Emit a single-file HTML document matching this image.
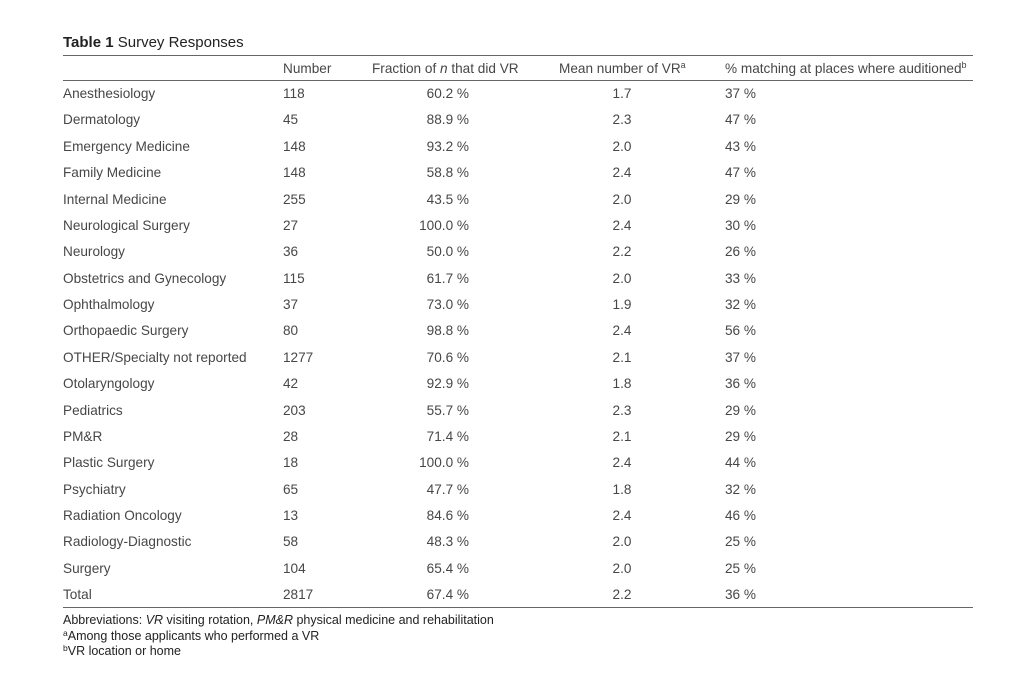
<!DOCTYPE html>
<html>
<head>
<meta charset="utf-8">
<style>
  html, body { margin:0; padding:0; background:#fff; }
  body { width:1024px; height:684px; position:relative; overflow:hidden;
         font-family:"Liberation Sans", Arial, sans-serif; color:#474747; }
  .t { position:absolute; white-space:nowrap; font-size:13.6px; height:20px; line-height:20px; }
  .rule { position:absolute; left:63px; width:910px; height:1px; background:#666; }
  .title { position:absolute; left:63px; top:33px; font-size:15px; line-height:20px; color:#222; white-space:nowrap; }
  .fn { position:absolute; left:63px; font-size:12.5px; line-height:16px; height:16px; color:#222; white-space:nowrap; }
  sup { font-size:9px; vertical-align:0; position:relative; top:-5px; }
  .fs { font-size:8.5px; top:-4px; }
  .r { text-align:right; }
  .c { text-align:center; }
</style>
</head>
<body>
<div class="title"><b>Table 1</b> Survey Responses</div>
<div class="rule" style="top:55px;"></div>
<div class="rule" style="top:80px;"></div>
<div class="rule" style="top:607px;"></div>

<div class="t" style="left:283px;top:59px;">Number</div>
<div class="t" style="left:372px;top:59px;">Fraction of <i>n</i> that did VR</div>
<div class="t" style="left:559px;top:59px;">Mean number of VR<sup>a</sup></div>
<div class="t" style="left:725px;top:59px;">% matching at places where auditioned<sup>b</sup></div>

<div class="fn" style="top:612px;">Abbreviations: <i>VR</i> visiting rotation, <i>PM&amp;R</i> physical medicine and rehabilitation</div>
<div class="fn" style="top:628px;"><sup class="fs">a</sup>Among those applicants who performed a VR</div>
<div class="fn" style="top:643px;"><sup class="fs">b</sup>VR location or home</div>

<div class="t" style="left:63px;top:84px;">Anesthesiology</div><div class="t" style="left:283px;top:84px;">118</div><div class="t r" style="left:409px;width:60px;top:84px;">60.2 %</div><div class="t c" style="left:592px;width:60px;top:84px;">1.7</div><div class="t" style="left:725px;top:84px;">37 %</div>
<div class="t" style="left:63px;top:110px;">Dermatology</div><div class="t" style="left:283px;top:110px;">45</div><div class="t r" style="left:409px;width:60px;top:110px;">88.9 %</div><div class="t c" style="left:592px;width:60px;top:110px;">2.3</div><div class="t" style="left:725px;top:110px;">47 %</div>
<div class="t" style="left:63px;top:137px;">Emergency Medicine</div><div class="t" style="left:283px;top:137px;">148</div><div class="t r" style="left:409px;width:60px;top:137px;">93.2 %</div><div class="t c" style="left:592px;width:60px;top:137px;">2.0</div><div class="t" style="left:725px;top:137px;">43 %</div>
<div class="t" style="left:63px;top:163px;">Family Medicine</div><div class="t" style="left:283px;top:163px;">148</div><div class="t r" style="left:409px;width:60px;top:163px;">58.8 %</div><div class="t c" style="left:592px;width:60px;top:163px;">2.4</div><div class="t" style="left:725px;top:163px;">47 %</div>
<div class="t" style="left:63px;top:190px;">Internal Medicine</div><div class="t" style="left:283px;top:190px;">255</div><div class="t r" style="left:409px;width:60px;top:190px;">43.5 %</div><div class="t c" style="left:592px;width:60px;top:190px;">2.0</div><div class="t" style="left:725px;top:190px;">29 %</div>
<div class="t" style="left:63px;top:216px;">Neurological Surgery</div><div class="t" style="left:283px;top:216px;">27</div><div class="t r" style="left:409px;width:60px;top:216px;">100.0 %</div><div class="t c" style="left:592px;width:60px;top:216px;">2.4</div><div class="t" style="left:725px;top:216px;">30 %</div>
<div class="t" style="left:63px;top:242px;">Neurology</div><div class="t" style="left:283px;top:242px;">36</div><div class="t r" style="left:409px;width:60px;top:242px;">50.0 %</div><div class="t c" style="left:592px;width:60px;top:242px;">2.2</div><div class="t" style="left:725px;top:242px;">26 %</div>
<div class="t" style="left:63px;top:269px;">Obstetrics and Gynecology</div><div class="t" style="left:283px;top:269px;">115</div><div class="t r" style="left:409px;width:60px;top:269px;">61.7 %</div><div class="t c" style="left:592px;width:60px;top:269px;">2.0</div><div class="t" style="left:725px;top:269px;">33 %</div>
<div class="t" style="left:63px;top:295px;">Ophthalmology</div><div class="t" style="left:283px;top:295px;">37</div><div class="t r" style="left:409px;width:60px;top:295px;">73.0 %</div><div class="t c" style="left:592px;width:60px;top:295px;">1.9</div><div class="t" style="left:725px;top:295px;">32 %</div>
<div class="t" style="left:63px;top:321px;">Orthopaedic Surgery</div><div class="t" style="left:283px;top:321px;">80</div><div class="t r" style="left:409px;width:60px;top:321px;">98.8 %</div><div class="t c" style="left:592px;width:60px;top:321px;">2.4</div><div class="t" style="left:725px;top:321px;">56 %</div>
<div class="t" style="left:63px;top:348px;">OTHER/Specialty not reported</div><div class="t" style="left:283px;top:348px;">1277</div><div class="t r" style="left:409px;width:60px;top:348px;">70.6 %</div><div class="t c" style="left:592px;width:60px;top:348px;">2.1</div><div class="t" style="left:725px;top:348px;">37 %</div>
<div class="t" style="left:63px;top:374px;">Otolaryngology</div><div class="t" style="left:283px;top:374px;">42</div><div class="t r" style="left:409px;width:60px;top:374px;">92.9 %</div><div class="t c" style="left:592px;width:60px;top:374px;">1.8</div><div class="t" style="left:725px;top:374px;">36 %</div>
<div class="t" style="left:63px;top:401px;">Pediatrics</div><div class="t" style="left:283px;top:401px;">203</div><div class="t r" style="left:409px;width:60px;top:401px;">55.7 %</div><div class="t c" style="left:592px;width:60px;top:401px;">2.3</div><div class="t" style="left:725px;top:401px;">29 %</div>
<div class="t" style="left:63px;top:427px;">PM&amp;R</div><div class="t" style="left:283px;top:427px;">28</div><div class="t r" style="left:409px;width:60px;top:427px;">71.4 %</div><div class="t c" style="left:592px;width:60px;top:427px;">2.1</div><div class="t" style="left:725px;top:427px;">29 %</div>
<div class="t" style="left:63px;top:453px;">Plastic Surgery</div><div class="t" style="left:283px;top:453px;">18</div><div class="t r" style="left:409px;width:60px;top:453px;">100.0 %</div><div class="t c" style="left:592px;width:60px;top:453px;">2.4</div><div class="t" style="left:725px;top:453px;">44 %</div>
<div class="t" style="left:63px;top:480px;">Psychiatry</div><div class="t" style="left:283px;top:480px;">65</div><div class="t r" style="left:409px;width:60px;top:480px;">47.7 %</div><div class="t c" style="left:592px;width:60px;top:480px;">1.8</div><div class="t" style="left:725px;top:480px;">32 %</div>
<div class="t" style="left:63px;top:506px;">Radiation Oncology</div><div class="t" style="left:283px;top:506px;">13</div><div class="t r" style="left:409px;width:60px;top:506px;">84.6 %</div><div class="t c" style="left:592px;width:60px;top:506px;">2.4</div><div class="t" style="left:725px;top:506px;">46 %</div>
<div class="t" style="left:63px;top:532px;">Radiology-Diagnostic</div><div class="t" style="left:283px;top:532px;">58</div><div class="t r" style="left:409px;width:60px;top:532px;">48.3 %</div><div class="t c" style="left:592px;width:60px;top:532px;">2.0</div><div class="t" style="left:725px;top:532px;">25 %</div>
<div class="t" style="left:63px;top:559px;">Surgery</div><div class="t" style="left:283px;top:559px;">104</div><div class="t r" style="left:409px;width:60px;top:559px;">65.4 %</div><div class="t c" style="left:592px;width:60px;top:559px;">2.0</div><div class="t" style="left:725px;top:559px;">25 %</div>
<div class="t" style="left:63px;top:585px;">Total</div><div class="t" style="left:283px;top:585px;">2817</div><div class="t r" style="left:409px;width:60px;top:585px;">67.4 %</div><div class="t c" style="left:592px;width:60px;top:585px;">2.2</div><div class="t" style="left:725px;top:585px;">36 %</div>
</body>
</html>
